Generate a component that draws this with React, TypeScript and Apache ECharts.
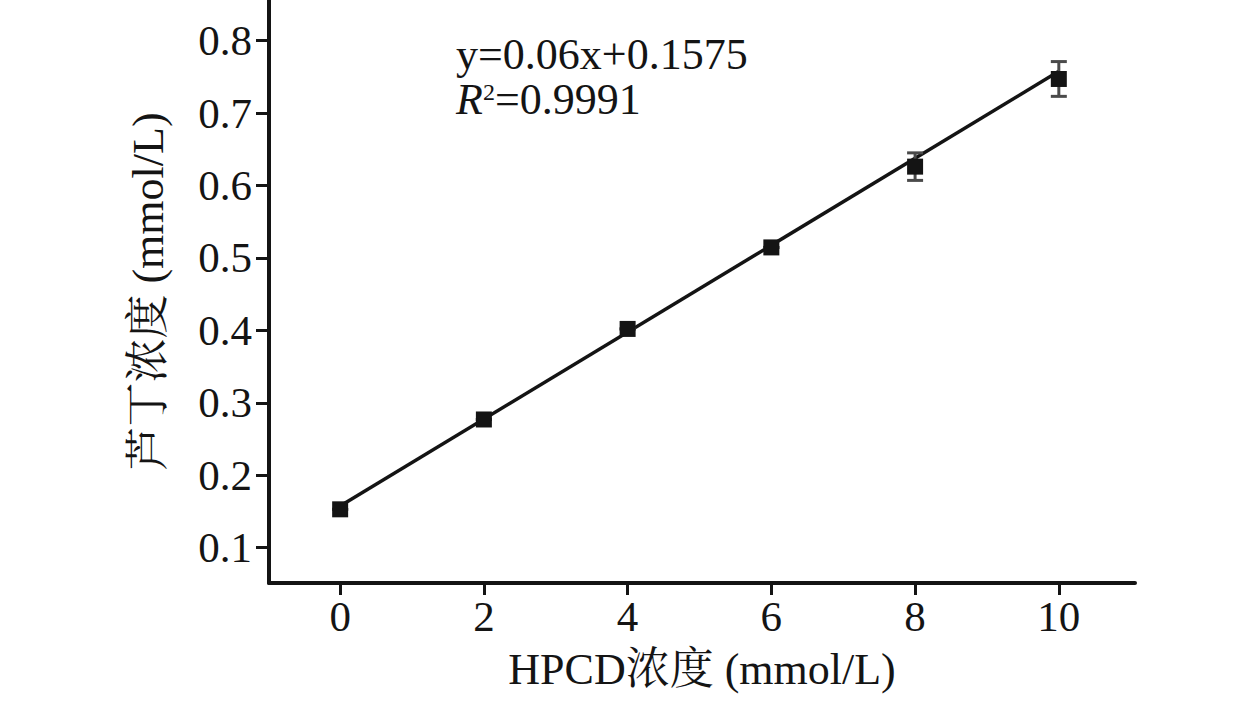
import React, { useEffect, useRef } from "react";
import * as echarts from "echarts";

const xValues = [0, 2, 4, 6, 8, 10];
const yValues = [0.153, 0.277, 0.402, 0.5145, 0.626, 0.747];
const yErrors = [0, 0, 0, 0, 0.019, 0.024];
const xTicks = [0, 2, 4, 6, 8, 10];
const yTicks = [0.1, 0.2, 0.3, 0.4, 0.5, 0.6, 0.7, 0.8];
const slope = 0.06;
const intercept = 0.1575;
const fitX = [0, 10];
const equationText = "y=0.06x+0.1575";
const r2Text = "0.9991";
const xName = "HPCD浓度 (mmol/L)";
const yName = "芦丁浓度 (mmol/L)";

const FONT = "'Liberation Serif', 'Times New Roman', 'Noto Serif CJK SC', 'Noto Sans CJK SC', serif";
const INK = "#141414";

export default function App() {
  const ref = useRef<HTMLDivElement>(null);
  useEffect(() => {
    if (!ref.current) return;
    const chart = echarts.init(ref.current, null, { renderer: "svg" });
    const axisCommon = {
      splitLine: { show: false },
      nameTextStyle: { fontFamily: FONT, fontSize: 44, color: INK },
    };
    chart.setOption({
      animation: false,
      backgroundColor: "#ffffff",
      grid: { left: 269, right: 125, top: 0, bottom: 121, containLabel: false },
      xAxis: {
        type: "value",
        min: -0.99,
        max: 11.06,
        ...axisCommon,
        axisLine: { show: true, onZero: false, lineStyle: { color: INK, width: 4 } },
        name: xName,
        nameLocation: "middle",
        nameGap: 64,
        axisTick: { show: true, length: 12, lineStyle: { color: INK, width: 3 }, customValues: xTicks },
        axisLabel: {
          customValues: xTicks,
          margin: 12,
          fontFamily: FONT,
          fontSize: 43,
          color: INK,
          formatter: (v: number) => String(Math.round(v)),
        },
      },
      yAxis: {
        type: "value",
        min: 0.0513,
        max: 0.856,
        ...axisCommon,
        axisLine: { show: true, onZero: false, lineStyle: { color: INK, width: 4 } },
        name: yName,
        nameLocation: "middle",
        nameRotate: 90,
        nameGap: 99,
        axisTick: { show: true, length: 13, lineStyle: { color: INK, width: 3 }, customValues: yTicks },
        axisLabel: {
          customValues: yTicks,
          margin: 17,
          fontFamily: FONT,
          fontSize: 43,
          color: INK,
          formatter: (v: number) => v.toFixed(1),
        },
      },
      graphic: [
        {
          type: "text",
          left: 456,
          top: 32,
          style: {
            text: equationText,
            fontFamily: FONT,
            fontSize: 44,
            lineHeight: 38,
            fill: INK,
          },
        },
        {
          type: "text",
          left: 456,
          top: 77,
          style: {
            text: "{i|R}{s|2}=" + r2Text,
            fontFamily: FONT,
            fontSize: 44,
            lineHeight: 38,
            fill: INK,
            rich: {
              i: { fontFamily: FONT, fontSize: 44, fontStyle: "italic", fill: INK, lineHeight: 38 },
              s: { fontFamily: FONT, fontSize: 24, fill: INK, verticalAlign: "top", lineHeight: 38 },
            },
          },
        },
      ],
      series: [
        {
          type: "line",
          data: fitX.map((x) => [x, slope * x + intercept]),
          showSymbol: false,
          symbol: "none",
          lineStyle: { color: INK, width: 3.5 },
          z: 2,
        },
        {
          type: "custom",
          data: xValues.map((x, i) => [x, yValues[i], yErrors[i]]),
          encode: { x: 0, y: 1 },
          z: 3,
          renderItem: (params: any, api: any) => {
            const x = api.value(0);
            const y = api.value(1);
            const e = api.value(2);
            const top = api.coord([x, y + e]);
            const bot = api.coord([x, y - e]);
            const half = 8;
            const st = { stroke: "#4a4a4a", lineWidth: 3 };
            return {
              type: "group",
              children: [
                { type: "line", shape: { x1: top[0], y1: top[1], x2: bot[0], y2: bot[1] }, style: st },
                { type: "line", shape: { x1: top[0] - half, y1: top[1], x2: top[0] + half, y2: top[1] }, style: st },
                { type: "line", shape: { x1: bot[0] - half, y1: bot[1], x2: bot[0] + half, y2: bot[1] }, style: st },
              ],
            };
          },
        },
        {
          type: "scatter",
          data: xValues.map((x, i) => [x, yValues[i]]),
          symbol: "rect",
          symbolSize: 16,
          itemStyle: { color: INK, opacity: 1 },
          z: 4,
        },
      ],
    });
    return () => chart.dispose();
  }, []);
  return (
    <div
      ref={ref}
      style={{ width: 1260, height: 704, position: "absolute", left: 0, top: 0, background: "#fff" }}
    />
  );
}
